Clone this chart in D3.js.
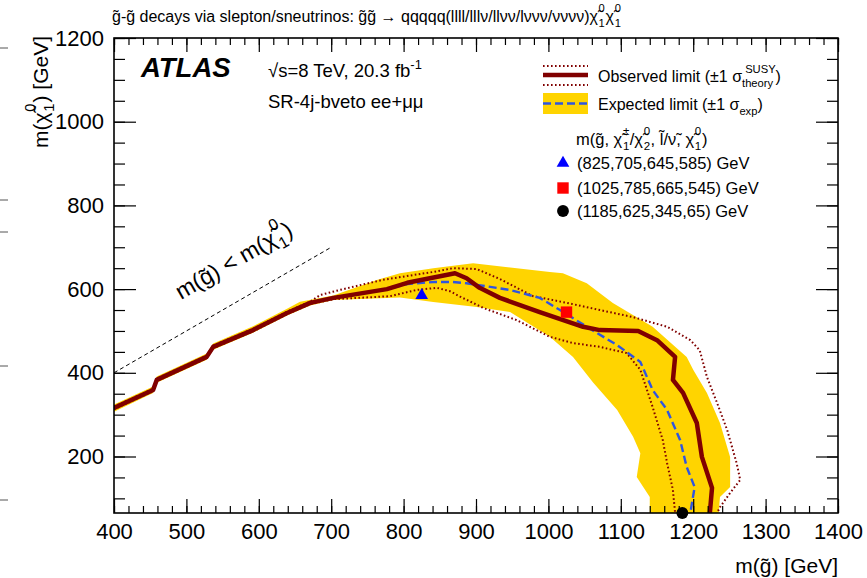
<!DOCTYPE html>
<html>
<head>
<meta charset="utf-8">
<script src="https://cdn.jsdelivr.net/npm/d3@7"></script>
<style>
  body { margin: 0; background: #fff; }
  svg { display: block; }
  text { font-family: "Liberation Sans", Arial, Helvetica, sans-serif; fill: #000; }
</style>
</head>
<body>
<svg id="chart" width="867" height="578"></svg>
<script>
// ---- contour data: gluino mass m(g~) [GeV] and LSP mass m(chi~) [GeV] ----
const obsMg   = [400, 454, 459, 528, 537, 592, 639, 671, 703, 777, 805, 871, 887, 905, 933, 988, 1048, 1071, 1124, 1150, 1175, 1172, 1186, 1205, 1212, 1226, 1223];
const obsMchi = [316, 359, 383, 438, 462, 502, 543, 567, 579, 600, 615, 638, 626, 603, 579, 545, 510, 502, 500, 478, 438, 383, 352, 280, 199, 125, 65];

const obsUpMg   = [400, 454, 459, 528, 537, 592, 639, 671, 685, 712, 771, 841, 868, 901, 933, 979, 1026, 1071, 1117, 1164, 1196, 1209, 1219, 1233, 1247, 1260, 1265, 1251, 1237, 1233];
const obsUpMchi = [319, 362, 386, 441, 465, 505, 546, 570, 586, 598, 622, 641, 650, 648, 624, 583, 567, 550, 533, 510, 478, 454, 390, 328, 263, 184, 144, 113, 79, 65];

const obsDnMg   = [400, 454, 459, 528, 537, 592, 639, 671, 703, 781, 818, 846, 864, 878, 910, 956, 1002, 1034, 1071, 1108, 1127, 1144, 1158, 1164, 1172, 1175];
const obsDnMchi = [313, 356, 380, 435, 459, 499, 540, 564, 576, 583, 598, 603, 595, 582, 555, 526, 486, 471, 462, 447, 407, 318, 239, 184, 120, 65];

const expMg   = [400, 454, 459, 528, 537, 592, 639, 671, 703, 777, 805, 841, 868, 887, 947, 988, 1016, 1053, 1095, 1127, 1144, 1164, 1182, 1191, 1202, 1196];
const expMchi = [316, 359, 383, 438, 462, 502, 543, 567, 579, 600, 612, 617, 617, 614, 598, 579, 550, 510, 466, 426, 359, 311, 239, 175, 127, 65];

// expected +-1 sigma band: upper edge left->right, lower edge right->left
const bandUpMg   = [400, 454, 459, 528, 537, 592, 639, 657, 703, 763, 795, 841, 896, 1002, 1020, 1053, 1089, 1144, 1191, 1200, 1219, 1237, 1251, 1251, 1237, 1235];
const bandUpMchi = [324, 367, 391, 446, 470, 511, 553, 570, 585, 622, 638, 650, 662, 641, 638, 614, 567, 510, 438, 407, 352, 280, 199, 127, 103, 65];
const bandDnMg   = [1140, 1140, 1122, 1127, 1117, 1095, 1062, 1034, 1002, 947, 910, 901, 841, 795, 703, 671, 639, 592, 537, 528, 459, 454, 400];
const bandDnMchi = [65, 103, 151, 208, 247, 311, 376, 438, 486, 545, 555, 557, 569, 580, 574, 561, 537, 496, 455, 431, 376, 352, 307];

// kinematic boundary m(g~) = m(chi~)
const kinMg = [400, 700];

// benchmark points
const bmMg   = [825, 1025, 1185];
const bmMchi = [585, 545, 65];
const bmLabels = ["(825,705,645,585) GeV", "(1025,785,665,545) GeV", "(1185,625,345,65) GeV"];

// axis ticks
const xMajor = d3.range(400, 1401, 100);
const xMinor = d3.range(400, 1401, 20);
const yMajor = [200, 400, 600, 800, 1000, 1200];
const yMinor = d3.range(100, 1201, 50);

// ---- layout ----
const L = 114, R = 838, T = 38, B = 513;
const svg = d3.select("#chart");
const x = d3.scaleLinear().domain([400, 1400]).range([L, R]);
const y = d3.scaleLinear().domain([65, 1200]).range([B, T]);

const DARKRED = "#800000", BLUE = "#2f55e0", GOLD = "#ffd400";
const TIL = "\u0303", CHI = "\u03C7", NU = "\u03BD";

const line = d3.line().x(d => x(d[0])).y(d => y(d[1]));
const zip = (a, b) => a.map((v, i) => [v, b[i]]);

// clip to frame
svg.append("clipPath").attr("id", "frame")
  .append("rect").attr("x", L).attr("y", T).attr("width", R - L).attr("height", B - T);
const plot = svg.append("g").attr("clip-path", "url(#frame)");

// band
plot.append("path")
  .attr("d", line(zip(bandUpMg, bandUpMchi).concat(zip(bandDnMg, bandDnMchi))) + "Z")
  .attr("fill", GOLD);

// observed +-1 sigma theory
[[obsUpMg, obsUpMchi], [obsDnMg, obsDnMchi]].forEach(([a, b]) => {
  plot.append("path").attr("d", line(zip(a, b)))
    .attr("fill", "none").attr("stroke", DARKRED).attr("stroke-width", 2)
    .attr("stroke-dasharray", "1.6,2.4");
});

// expected
plot.append("path").attr("d", line(zip(expMg, expMchi)))
  .attr("fill", "none").attr("stroke", BLUE).attr("stroke-width", 2.4)
  .attr("stroke-dasharray", "8,4");

// observed
plot.append("path").attr("d", line(zip(obsMg, obsMchi)))
  .attr("fill", "none").attr("stroke", DARKRED).attr("stroke-width", 4.5)
  .attr("stroke-linejoin", "round");

// kinematic line
plot.append("path").attr("d", line(zip(kinMg, kinMg)))
  .attr("fill", "none").attr("stroke", "#000").attr("stroke-width", 1)
  .attr("stroke-dasharray", "4,3");

// benchmark markers
const markerShapes = [d3.symbolTriangle, d3.symbolSquare, d3.symbolCircle];
const markerColors = ["#0000ff", "#ff0000", "#000000"];
const markerSizes = [70, 130, 110];
svg.selectAll("path.bm").data(bmMg).join("path").attr("class", "bm")
  .attr("transform", (d, i) => `translate(${x(d)},${y(bmMchi[i])})`)
  .attr("d", (d, i) => d3.symbol(markerShapes[i], markerSizes[i])())
  .attr("fill", (d, i) => markerColors[i]);

// ---- axes ----
const axes = svg.append("g").attr("stroke-linecap", "butt");
function ticks(gen, size) {
  const g = axes.append("g").call(gen.tickSizeInner(size).tickSizeOuter(0));
  g.select(".domain").remove();
  g.selectAll("line").attr("stroke", "#000").attr("stroke-width", 1.2);
  return g;
}
const fs = 22;
// bottom with labels
const gb = ticks(d3.axisBottom(x).tickValues(xMajor).tickFormat(d3.format("d")).tickPadding(10), -14)
  .attr("transform", `translate(0,${B})`);
gb.selectAll("text").attr("font-size", fs).attr("font-family", null).attr("fill", "#000");
ticks(d3.axisBottom(x).tickValues(xMinor).tickFormat(""), -7).attr("transform", `translate(0,${B})`);
// top
ticks(d3.axisTop(x).tickValues(xMajor).tickFormat(""), -14).attr("transform", `translate(0,${T})`);
ticks(d3.axisTop(x).tickValues(xMinor).tickFormat(""), -7).attr("transform", `translate(0,${T})`);
// left with labels
const gl = ticks(d3.axisLeft(y).tickValues(yMajor).tickFormat(d3.format("d")).tickPadding(10), -22)
  .attr("transform", `translate(${L},0)`);
gl.selectAll("text").attr("font-size", fs).attr("font-family", null).attr("fill", "#000");
ticks(d3.axisLeft(y).tickValues(yMinor).tickFormat(""), -11).attr("transform", `translate(${L},0)`);
// right
ticks(d3.axisRight(y).tickValues(yMajor).tickFormat(""), -22).attr("transform", `translate(${R},0)`);
ticks(d3.axisRight(y).tickValues(yMinor).tickFormat(""), -11).attr("transform", `translate(${R},0)`);

// frame
svg.append("rect").attr("x", L).attr("y", T).attr("width", R - L).attr("height", B - T)
  .attr("fill", "none").attr("stroke", "#000").attr("stroke-width", 1.6);

// stub marks along the left edge
[48, 200, 232, 366, 500].forEach(v => {
  svg.append("line").attr("x1", 0).attr("x2", 8).attr("y1", v).attr("y2", v)
    .attr("stroke", "#555").attr("stroke-width", 1);
});

// ---- rich text helper (sub/superscripts, stacked indices) ----
function rich(x0, y0, size, parts, o = {}) {
  const t = svg.append("text")
    .attr("transform", `translate(${x0},${y0}) rotate(${o.rot || 0})`)
    .attr("font-size", size)
    .attr("text-anchor", o.anchor || "start")
    .attr("font-weight", o.weight || null)
    .attr("font-style", o.style || null);
  let base = 0;
  parts.forEach(p => {
    if (typeof p === "string") p = { t: p };
    const small = p.sub || p.sup;
    const sz = small ? size * 0.7 : size;
    const target = p.sub ? size * 0.3 : p.sup ? -size * (p.hi || 0.45) : 0;
    const s = t.append("tspan").text(p.t).attr("font-size", sz).attr("dy", target - base);
    if (p.dx) s.attr("dx", p.dx * size);
    base = target;
  });
  return t;
}
// chi~ with stacked lower/upper index
const chi = (lo, hi) => [CHI + TIL, { t: lo, sub: 1, dx: 0.04 }, { t: hi, sup: 1, hi: 0.6, dx: -0.39 }];

// title
rich(112, 22, 16, [
  "g" + TIL + "-g" + TIL + " decays via slepton/sneutrinos: g" + TIL + "g" + TIL +
  " \u2192 qqqqq(llll/lll" + NU + "/ll" + NU + NU + "/l" + NU + NU + NU + "/" + NU + NU + NU + NU + ")",
  ...chi("1", "0"), { t: CHI + TIL, dx: 0.05 }, { t: "1", sub: 1, dx: 0.04 }, { t: "0", sup: 1, hi: 0.6, dx: -0.39 }
]);

// ATLAS label block
rich(141, 77, 27.5, ["ATLAS"], { weight: "bold", style: "italic" });
rich(268, 77, 18.5, ["\u221As=8 TeV, 20.3 fb", { t: "-1", sup: 1 }]);
rich(268, 108, 18.5, ["SR-4j-bveto ee+\u03BC\u03BC"]);

// kinematic label
rich(181, 300, 23, ["m(g" + TIL + ") < m(", ...chi("1", "0"), { t: ")", dx: 0.05 }], { rot: -30 });

// legend
const lg = svg.append("g");
lg.append("line").attr("x1", 543).attr("x2", 588).attr("y1", 75).attr("y2", 75)
  .attr("stroke", DARKRED).attr("stroke-width", 4.5);
[66, 85].forEach(v => lg.append("line").attr("x1", 543).attr("x2", 588).attr("y1", v).attr("y2", v)
  .attr("stroke", DARKRED).attr("stroke-width", 2).attr("stroke-dasharray", "1.6,2.4"));
lg.append("rect").attr("x", 543).attr("y", 93).attr("width", 45).attr("height", 21).attr("fill", GOLD);
lg.append("line").attr("x1", 543).attr("x2", 588).attr("y1", 103.5).attr("y2", 103.5)
  .attr("stroke", BLUE).attr("stroke-width", 2.4).attr("stroke-dasharray", "8,4");

rich(598, 82, 16, ["Observed limit (\u00B11 \u03C3", { t: "theory", sub: 1 }, { t: "SUSY", sup: 1, hi: 0.55, dx: -1.75 }, ")"]);
rich(598, 110, 16, ["Expected limit (\u00B11 \u03C3", { t: "exp", sub: 1 }, ")"]);
rich(576, 145, 16.5, ["m(g" + TIL + ", ", ...chi("1", "\u00B1"), { t: "/", dx: 0.03 }, CHI + TIL, { t: "2", sub: 1, dx: 0.04 }, { t: "0", sup: 1, hi: 0.6, dx: -0.39 },
  { t: ", l" + TIL + "/" + NU + TIL + ", ", dx: 0.03 }, ...chi("1", "0"), { t: ")", dx: 0.05 }]);

const legY = [163, 188, 211];
bmLabels.forEach((s, i) => {
  svg.append("path")
    .attr("transform", `translate(563,${legY[i]})`)
    .attr("d", d3.symbol(markerShapes[i], markerSizes[i])())
    .attr("fill", markerColors[i]);
  rich(577, legY[i] + 6, 16.5, [s]);
});

// axis titles
rich(838, 573, 21, ["m(g" + TIL + ") [GeV]"], { anchor: "end" });
rich(48, 36, 21, ["m(", ...chi("1", "0"), { t: ") [GeV]", dx: 0.05 }], { anchor: "end", rot: -90 });
</script>
</body>
</html>
